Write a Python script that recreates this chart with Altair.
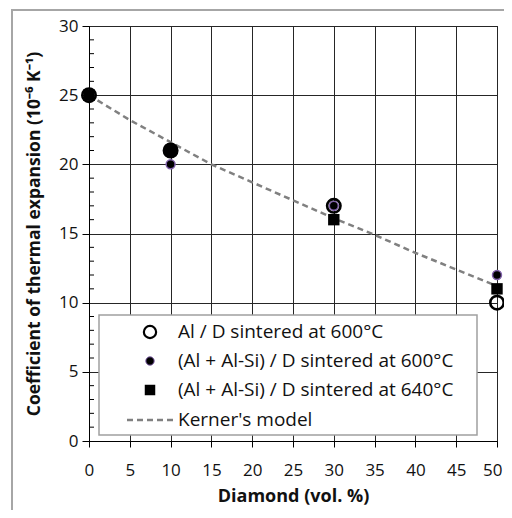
import altair as alt
import pandas as pd

# ---- data ----
diamond = [0, 10, 30, 50]
al_600 = [25, 21, 17, 10]          # Al / D sintered at 600°C
alsi_600 = [25, 20, 17, 12]        # (Al + Al-Si) / D sintered at 600°C
alsi_640 = [25, 21, 16, 11]        # (Al + Al-Si) / D sintered at 640°C
kerner_x = [0, 5, 10, 15, 20, 25, 30, 35, 40, 45, 50]
kerner_y = [25, 23.2, 21.6, 20.0, 18.7, 17.4, 16.1, 14.9, 13.6, 12.4, 11.2]
x_ticks = [0, 5, 10, 15, 20, 25, 30, 35, 40, 45, 50]
y_ticks = [0, 5, 10, 15, 20, 25, 30]
y_minor = [1, 2, 3, 4, 6, 7, 8, 9, 11, 12, 13, 14, 16, 17, 18, 19, 21, 22, 23, 24, 26, 27, 28, 29]
legend_labels = ["Al / D sintered at 600°C", "(Al + Al-Si) / D sintered at 600°C",
                 "(Al + Al-Si) / D sintered at 640°C", "Kerner's model"]

FONT = "Open Sans"
W, H = 408, 415

X = alt.X("x:Q", scale=alt.Scale(domain=[0, 50], nice=False),
          axis=alt.Axis(values=x_ticks, title="Diamond (vol. %)", grid=True,
                        labelFlush=True, labelFlushOffset=5,
                        tickSize=6, labelPadding=15, titlePadding=9, titleFontSize=18))
Y = alt.Y("y:Q", scale=alt.Scale(domain=[0, 30], nice=False),
          axis=alt.Axis(values=y_ticks, title="Coefficient of thermal expansion (10⁻⁶ K⁻¹)",
                        grid=True, labelFlush=False, tickSize=7, labelPadding=4,
                        titlePadding=15, titleFontSize=17.5))

df_al600 = pd.DataFrame({"x": diamond, "y": al_600})
df_alsi600 = pd.DataFrame({"x": diamond, "y": alsi_600})
df_alsi640 = pd.DataFrame({"x": diamond, "y": alsi_640})
df_kerner = pd.DataFrame({"x": kerner_x, "y": kerner_y})
df_minor = pd.DataFrame({"y": y_minor})
one = pd.DataFrame({"a": [0]})

frame = alt.Chart(one).mark_rect(fillOpacity=0, stroke="#a6a6a6", strokeWidth=2, clip=False).encode(
    x=alt.value(-77), x2=alt.value(440), y=alt.value(-16), y2=alt.value(520))

kerner = alt.Chart(df_kerner).mark_line(color="#808080", strokeWidth=2.5, strokeDash=[6, 4]).encode(x=X, y=Y)

minor = alt.Chart(df_minor).mark_rule(color="black", strokeWidth=1).encode(
    y=alt.Y("y:Q", scale=alt.Scale(domain=[0, 30], nice=False)),
    x=alt.value(0), x2=alt.value(5))

# legend
LX0, LX1, LY0, LY1 = 10, 388, 289, 409
rows = [306, 335, 364, 394]
SX, TX = 61, 89
leg_box = alt.Chart(one).mark_rect(fill="white", stroke="#a0a0a0", strokeWidth=1.5).encode(
    x=alt.value(LX0), x2=alt.value(LX1), y=alt.value(LY0), y2=alt.value(LY1))
leg_open = alt.Chart(one).mark_point(shape="circle", filled=False, size=150, color="black",
                                     strokeWidth=2.2, opacity=1).encode(x=alt.value(SX), y=alt.value(rows[0]))
leg_dot = alt.Chart(one).mark_point(shape="circle", filled=True, size=70, fill="black",
                                    stroke="#7f5fa8", strokeWidth=1, opacity=1).encode(x=alt.value(SX), y=alt.value(rows[1]))
leg_sq = alt.Chart(one).mark_point(shape="square", filled=True, size=110, color="black",
                                   opacity=1).encode(x=alt.value(SX), y=alt.value(rows[2]))
leg_line = alt.Chart(one).mark_rule(color="#808080", strokeWidth=2.5, strokeDash=[6, 4]).encode(
    x=alt.value(38), x2=alt.value(86), y=alt.value(rows[3]))
leg_text = []
for lab, ry in zip(legend_labels, rows):
    leg_text.append(alt.Chart(one).mark_text(text=lab, align="left", baseline="middle",
                                             font=FONT, fontSize=19, color="#111111").encode(
        x=alt.value(TX), y=alt.value(ry)))

dot = alt.Chart(df_alsi600).mark_point(shape="circle", filled=True, size=80, fill="black",
                                       stroke="#7f5fa8", strokeWidth=1.5, opacity=1).encode(x=X, y=Y)
oc = alt.Chart(df_al600).mark_point(shape="circle", filled=False, size=180, color="black",
                                    strokeWidth=2.6, opacity=1).encode(x=X, y=Y)
sq = alt.Chart(df_alsi640).mark_point(shape="square", filled=True, size=130, color="black",
                                      opacity=1).encode(x=X, y=Y)

chart = alt.layer(frame, kerner, minor, leg_box, leg_open, leg_dot, leg_sq, leg_line, *leg_text,
                  dot, oc, sq).properties(
    width=W, height=H,
    autosize=alt.AutoSizeParams(type="none"),
    padding={"left": 81, "top": 18, "right": 7, "bottom": 69},
).configure_view(stroke="black", strokeWidth=1).configure_axis(
    domainColor="black", tickColor="black", gridColor="#262626", gridWidth=1,
    labelFont=FONT, labelFontSize=17, labelColor="#111111",
    titleFont=FONT, titleFontWeight="bold", titleColor="#111111",
)

chart.save("out.html", embed_options={"renderer": "svg", "actions": False})
